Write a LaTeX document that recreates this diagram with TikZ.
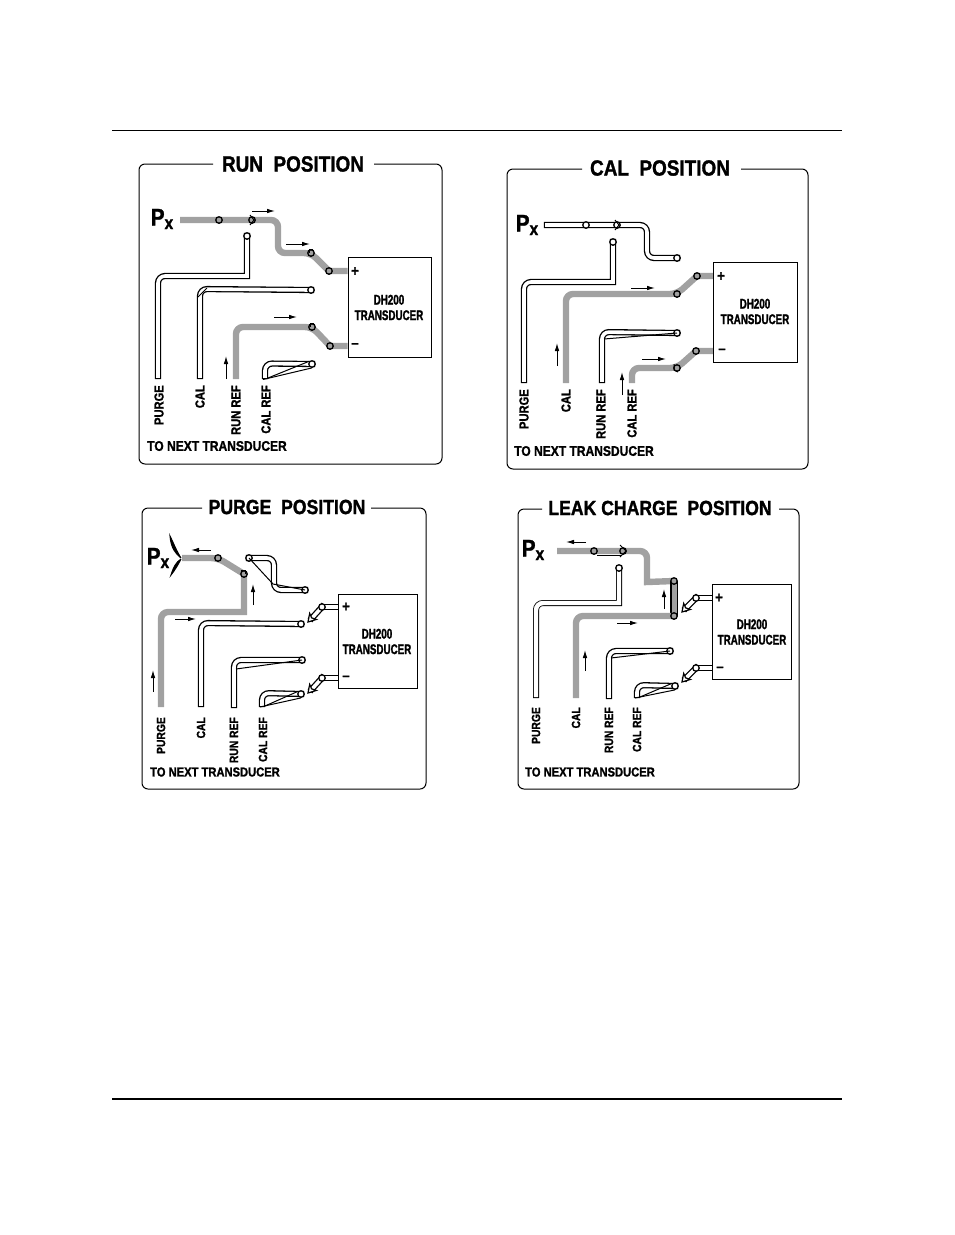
\documentclass[tikz,border=0pt]{standalone}
\usepackage{fontspec}
\newfontfamily\dgfont[FakeStretch=0.86,BoldFeatures={FakeBold=1.4}]{Liberation Sans}
\newfontfamily\dgnarrow[FakeStretch=0.70,BoldFeatures={FakeBold=1.4}]{Liberation Sans}
\usetikzlibrary{arrows.meta,backgrounds}
\definecolor{tubegray}{gray}{0.63}
\tikzset{
  gastube/.style={tubegray,line width=6.4pt,rounded corners=7pt},
  whitetube/.style={black,double=white,line width=1.3pt,double distance=3.6pt,rounded corners=7pt,line cap=rect},
  wire/.style={black,line width=1pt},
  flow/.style={black,line width=1pt,-{Latex[length=8pt,width=4.6pt]}},
  portg/.style={circle,draw,line width=1.3pt,fill=tubegray,inner sep=0pt,minimum size=6.5pt},
  portw/.style={circle,draw,line width=1.3pt,fill=white,inner sep=0pt,minimum size=6.5pt},
  panel/.style={black,line width=1pt,rounded corners=6pt},
  boxnode/.style={draw,line width=1pt,fill=white,inner sep=0pt,anchor=north west},
  titletext/.style={inner sep=0pt,font=\dgfont\bfseries\fontsize{22}{22}\selectfont},
  titletextb/.style={inner sep=0pt,font=\dgfont\bfseries\fontsize{20.5}{20.5}\selectfont},
  pxtext/.style={inner sep=0pt,font=\dgfont\bfseries\fontsize{24}{24}\selectfont},
  linetext/.style={rotate=90,anchor=east,inner sep=0pt,font=\dgfont\bfseries\fontsize{13}{13}\selectfont},
  linetextb/.style={rotate=90,anchor=east,inner sep=0pt,font=\dgfont\bfseries\fontsize{12}{12}\selectfont},
  nexttext/.style={anchor=west,inner sep=0pt,font=\dgfont\bfseries\fontsize{14}{14}\selectfont},
  nexttextb/.style={anchor=west,inner sep=0pt,font=\dgfont\bfseries\fontsize{13}{13}\selectfont},
  dhtext/.style={inner sep=0pt,align=center,font=\dgnarrow\bfseries\fontsize{14}{15.5}\selectfont},
  signtext/.style={inner sep=0pt,font=\dgfont\bfseries\fontsize{15}{15}\selectfont},
  stubhead/.pic={\draw[black,line width=1.2pt,fill=white] (0,0) -- (-7.5,4.5) -- (-5.5,0) -- (-7.5,-4.5) -- cycle;}
}
\newcommand{\pxlabel}{P\raisebox{-3.5pt}{\fontsize{18}{18}\selectfont x}}
\begin{document}
\begin{tikzpicture}[x=1pt,y=-1pt]
\useasboundingbox (0,0) rectangle (954,1235);
\draw[line width=1pt] (112,130.5) -- (842,130.5);
\draw[line width=2pt] (112,1098.5) -- (842,1098.5);

% run position
\draw[panel] (213,164) -- (139,164) -- (139,464) -- (442,464) -- (442,164) -- (374,164);
\node[titletext] (runtitle) at (293,164) {RUN\ \ POSITION};
\node[pxtext] (runpx) at (162,219) {\pxlabel};
\node[boxnode,minimum width=83pt,minimum height=100.5pt] (runbox) at (347.5,256.7) {};
\node[dhtext] (runname) at (389,307.5) {DH200\\TRANSDUCER};
\node[signtext] (runplus) at (355,271.5) {+};
\node[signtext] (runminus) at (355,345.5) {–};
\node[portg] (runA) at (219,220) {};
\node[portg] (runB) at (252,220) {};
\node[portg] (runC) at (311,253) {};
\node[portg] (runD) at (329,271) {};
\node[portg] (runE) at (312,327) {};
\node[portg] (runF) at (330,346) {};
\node[portw] (runG) at (247,236) {};
\node[portw] (runH) at (311,290) {};
\node[portw] (runI) at (312,364) {};
\coordinate (runpx0) at (180,220);
\coordinate (runpurge) at (158,376);
\coordinate (runcal) at (200,376);
\coordinate (runref) at (236,379);
\coordinate (runcalref) at (265,376);
\begin{scope}[on background layer]
\draw[gastube] (runpx0) -- (runA.center) -- (runB.center) -- (278,220) -- (278,253) -- (runC.center) [sharp corners] -- (runD.center) -- (runD.center -| runbox.west);
\draw[gastube] (runref) -- (236,327) -- (runE.center) [sharp corners] -- (runF.center) -- (runF.center -| runbox.west);
\draw[whitetube] (runpurge) -- (158,276) [sharp corners] -- (247,276) -- (runG.center);
\draw[whitetube] (runcal) -- (200,289) -- (runH.center);
\draw[whitetube] (runcalref) -- (265,363.5) -- (runI.center);
\end{scope}
\draw[wire] (198,297) -- (207,288);
\draw[wire] (263,379.5) -- (runI.south);
\draw[wire] (268,378) -- (runI.north west);
\draw[wire] (250,215) -- (254,220) -- (250,225);
\draw[wire] (313,249) -- (309,249) -- (309,253);
\draw[wire] (314,323) -- (310,323) -- (310,327);
\draw[flow] (252,211) -- (275,211);
\draw[flow] (286,244) -- (310,244);
\draw[flow] (274,317) -- (297,317);
\draw[flow] (226,379) -- (226,356);
\node[linetext] (runl1) at (159,385) {PURGE};
\node[linetext] (runl2) at (200,385) {CAL};
\node[linetext] (runl3) at (236,385) {RUN REF};
\node[linetext] (runl4) at (266,385) {CAL REF};
\node[nexttext] (runnext) at (147,446) {TO NEXT TRANSDUCER};

% cal position
\draw[panel] (582,169) -- (507,169) -- (507,469) -- (808,469) -- (808,169) -- (741,169);
\node[titletext] (caltitle) at (660,168) {CAL\ \ POSITION};
\node[pxtext] (calpx) at (527,225) {\pxlabel};
\node[boxnode,minimum width=84pt,minimum height=100.5pt] (calbox) at (713,261.5) {};
\node[dhtext] (calname) at (755,311.5) {DH200\\TRANSDUCER};
\node[signtext] (calplus) at (721,276.5) {+};
\node[signtext] (calminus) at (722,351) {–};
\node[portw] (calA) at (586,225) {};
\node[portw] (calB) at (617,225) {};
\node[portw] (calC) at (677,258) {};
\node[portw] (calG) at (613,242) {};
\node[portg] (calD) at (677,294) {};
\node[portg] (calE) at (697,276) {};
\node[portw] (calH) at (677,333) {};
\node[portg] (calF) at (677,368) {};
\node[portg] (calI) at (696,351) {};
\coordinate (calpx0) at (547,225);
\coordinate (calpurge) at (524,380);
\coordinate (calcal) at (566,383);
\coordinate (calref) at (602,380);
\coordinate (calcalref) at (632,383);
\begin{scope}[on background layer]
\draw[whitetube] (calpx0) -- (647,225) -- (647,258) -- (calC.center);
\draw[whitetube] (calpurge) -- (524,282) [sharp corners] -- (613,282) -- (calG.center);
\draw[gastube] (calcal) -- (566,294) -- (calD.center) [sharp corners] -- (calE.center) -- (calE.center -| calbox.west);
\draw[whitetube] (calref) -- (602,332) -- (calH.center);
\draw[gastube] (calcalref) -- (632,368) -- (calF.center) [sharp corners] -- (calI.center) -- (calI.center -| calbox.west);
\end{scope}
\draw[wire] (604,339) -- (calH.center);
\draw[line width=1.8pt] (calA.center) ++(2,2.5) -- (619,227.5);
\draw[wire] (615,220) -- (619,225) -- (615,230);
\draw[wire] (674,364) -- (674,370) -- (678,372);
\draw[flow] (631,288) -- (655,288);
\draw[flow] (642,359) -- (666,359);
\draw[flow] (557,366) -- (557,343);
\draw[flow] (622,395) -- (622,372);
\node[linetext] (call1) at (524,389) {PURGE};
\node[linetext] (call2) at (566,389) {CAL};
\node[linetext] (call3) at (601,389) {RUN REF};
\node[linetext] (call4) at (632,389) {CAL REF};
\node[nexttext] (calnext) at (514,451) {TO NEXT TRANSDUCER};

% purge position
\draw[panel] (202,508) -- (142,508) -- (142,789) -- (426,789) -- (426,508) -- (371,508);
\node[titletextb] (purtitle) at (287,507) {PURGE\ \ POSITION};
\node[pxtext] (purpx) at (158,558) {\pxlabel};
\node[boxnode,minimum width=79pt,minimum height=94.5pt] (purbox) at (338,593.7) {};
\node[dhtext] (purname) at (377,641.5) {DH200\\TRANSDUCER};
\node[signtext] (purplus) at (346,607) {+};
\node[signtext] (purminus) at (346,678) {–};
\node[portg] (purA) at (218,558) {};
\node[portg] (purB) at (244,574) {};
\node[portw] (purC) at (249,558) {};
\node[portw] (purD) at (305,590) {};
\node[portw] (purE) at (301,624) {};
\node[portw] (purF) at (302,660) {};
\node[portw] (purG) at (301,694) {};
\node[portw] (purH) at (322,607) {};
\node[portw] (purI) at (322,678) {};
\coordinate (purpx0) at (182,558);
\coordinate (purpurge) at (161,707);
\coordinate (purcal) at (201,704);
\coordinate (purref) at (234,705);
\coordinate (purcalref) at (262,704);
\begin{scope}[on background layer]
\draw[gastube] (purpx0) -- (purA.center) [sharp corners] -- (purB.center) -- (244,612) [rounded corners=7pt] -- (161,612) -- (purpurge);
\draw[whitetube] (purC.center) -- (274,558) -- (274,590) -- (purD.center);
\draw[whitetube] (purcal) -- (201,623) -- (purE.center);
\draw[whitetube] (purref) -- (234,660) -- (purF.center);
\draw[whitetube] (purcalref) -- (262,693) -- (purG.center);
\draw[whitetube] (purH.center) -- (312,618);
\draw[whitetube] (purI.center) -- (312,689);
\draw[whitetube] (purH.center) -- (purH.center -| purbox.west);
\draw[whitetube] (purI.center) -- (purI.center -| purbox.west);
\end{scope}
\pic[rotate=228] at (308,622) {stubhead};
\pic[rotate=228] at (308,693) {stubhead};
\draw[wire] (purC.center) -- (273,584) -- (purD.center);
\draw[wire] (236,669) -- (purF.center);
\draw[wire] (260,707) -- (purG.south);
\draw[wire] (265,706) -- (purG.north west);
\draw[wire,fill=black] (181,558) .. controls (176,550) and (174,544) .. (170,536) .. controls (171,548) and (175,553) .. (181,558);
\draw[wire,fill=black] (181,559) .. controls (176,562) and (173,568) .. (171,575) .. controls (175,570) and (178,565) .. (181,559);
\draw[wire] (241,570) -- (245,570) -- (245,574);
\draw[flow] (211,550) -- (191,550);
\draw[flow] (253,605) -- (253,584);
\draw[flow] (175,619) -- (196,619);
\draw[flow] (153,692) -- (153,670);
\node[linetextb] (purl1) at (161,717) {PURGE};
\node[linetextb] (purl2) at (201,717) {CAL};
\node[linetextb] (purl3) at (234,717) {RUN REF};
\node[linetextb] (purl4) at (263,717) {CAL REF};
\node[nexttextb] (purnext) at (150,772) {TO NEXT TRANSDUCER};

% leak charge position
\draw[panel] (542,509) -- (518,509) -- (518,789) -- (799,789) -- (799,509) -- (779,509);
\node[titletextb] (leaktitle) at (660,508) {LEAK CHARGE\ \ POSITION};
\node[pxtext] (leakpx) at (533,550) {\pxlabel};
\node[boxnode,minimum width=79pt,minimum height=95pt] (leakbox) at (712,584.3) {};
\node[dhtext] (leakname) at (752,632) {DH200\\TRANSDUCER};
\node[signtext] (leakplus) at (719,598) {+};
\node[signtext] (leakminus) at (720,669) {–};
\node[portg] (leakA) at (594,551) {};
\node[portg] (leakB) at (623,551) {};
\node[portg] (leakC) at (674,581) {};
\node[portg] (leakD) at (674,616) {};
\node[portw] (leakG) at (619,568) {};
\node[portw] (leakH) at (670,651) {};
\node[portw] (leakI) at (675,686) {};
\node[portw] (leakJ) at (696,598) {};
\node[portw] (leakK) at (696,668) {};
\coordinate (leakpx0) at (557,551);
\coordinate (leakpurge) at (536,695);
\coordinate (leakcal) at (576,698);
\coordinate (leakref) at (609,696);
\coordinate (leakcalref) at (637,695);
\begin{scope}[on background layer]
\draw[gastube] (leakpx0) -- (leakA.center) -- (leakB.center) -- (647,551) [sharp corners] -- (647,582) -- (leakC.center);
\draw[line width=7.5pt] (leakC.center) -- (leakD.center);
\draw[tubegray,line width=5pt] (leakC.center) -- (leakD.center);
\draw[gastube] (leakD.center) -- (576,616) -- (leakcal);
\draw[whitetube,line width=0.8pt,double distance=4.4pt] (leakpurge) -- (536,603) [sharp corners] -- (619,603) -- (leakG.center);
\draw[whitetube] (leakref) -- (609,651) -- (leakH.center);
\draw[whitetube] (leakcalref) -- (637,685) -- (leakI.center);
\draw[whitetube] (leakJ.center) -- (686,608);
\draw[whitetube] (leakK.center) -- (686,678);
\draw[whitetube] (leakJ.center) -- (leakJ.center -| leakbox.west);
\draw[whitetube] (leakK.center) -- (leakK.center -| leakbox.west);
\end{scope}
\pic[rotate=228] at (682,612) {stubhead};
\pic[rotate=228] at (682,682) {stubhead};
\draw[wire] (611,658) -- (leakH.center);
\draw[wire] (635,698) -- (leakI.south);
\draw[wire] (640,697) -- (leakI.north west);
\draw[wire] (597,555) -- (621,555);
\draw[wire] (620,545) -- (626,551) -- (620,557);
\draw[flow] (586,542) -- (566,542);
\draw[flow] (664,609) -- (664,589);
\draw[flow] (617,623) -- (638,623);
\draw[flow] (585,671) -- (585,650);
\node[linetextb] (leakl1) at (536,707) {PURGE};
\node[linetextb] (leakl2) at (576,707) {CAL};
\node[linetextb] (leakl3) at (609,707) {RUN REF};
\node[linetextb] (leakl4) at (637,707) {CAL REF};
\node[nexttextb] (leaknext) at (525,772) {TO NEXT TRANSDUCER};
\end{tikzpicture}
\end{document}
